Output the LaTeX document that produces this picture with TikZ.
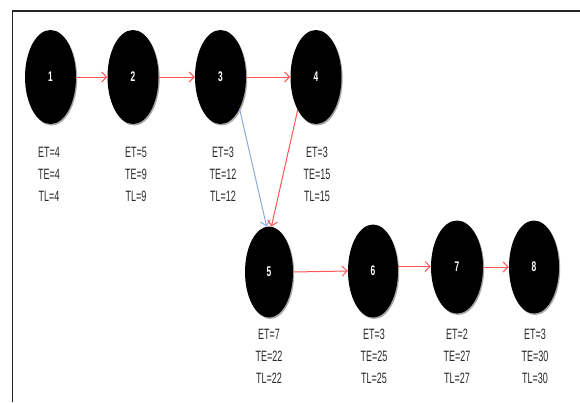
\documentclass[tikz,border=0pt]{standalone}
\usepackage{fontspec}
\usetikzlibrary{shapes.geometric,shadows,arrows.meta}
\newfontfamily\lblfont[FakeStretch=0.6]{Liberation Sans}
\newfontfamily\numfont[FakeStretch=0.6]{Liberation Sans Bold}
\definecolor{arrred}{RGB}{255,85,85}
\definecolor{arrblue}{RGB}{140,170,215}
\definecolor{txtgray}{RGB}{40,40,40}
\tikzset{
  evt/.style={ellipse, fill=black, inner sep=0pt, text=white,
    font=\numfont\fontsize{14}{14}\selectfont,
    drop shadow={shadow xshift=1.2pt, shadow yshift=-1.5pt, fill=black!35, opacity=1}},
  lbl/.style={align=center, text=txtgray, inner sep=0pt,
    font=\lblfont\fontsize{15}{22}\selectfont},
  redarr/.style={draw=arrred, line width=1pt, -{Straight Barb[length=5pt,width=10pt]}},
  bluearr/.style={draw=arrblue, line width=1pt, -{Straight Barb[length=5pt,width=10pt]}},
}
\begin{document}
\begin{tikzpicture}[x=1pt,y=-1pt]
\useasboundingbox (0,0) rectangle (580,402);
\fill[white] (0,0) rectangle (580,402);
\draw[line width=1.6pt, black!85] (12.5,402) -- (12.5,11) -- (580,11);

\node[evt, minimum width=51pt, minimum height=94pt] (n1) at (50.5,77) {1};
\node[evt, minimum width=51pt, minimum height=94pt] (n2) at (133,77) {2};
\node[evt, minimum width=51pt, minimum height=94pt] (n3) at (220.5,77) {3};
\node[evt, minimum width=51pt, minimum height=94pt] (n4) at (316,77) {4};
\node[evt, minimum width=48pt, minimum height=91pt] (n5) at (269,272) {5};
\node[evt, minimum width=50pt, minimum height=93pt] (n6) at (373,271) {6};
\node[evt, minimum width=52pt, minimum height=93pt] (n7) at (457,267) {7};
\node[evt, minimum width=50pt, minimum height=93pt] (n8) at (534,267) {8};

\node[lbl] (l1) at (49,174) {ET=4\\TE=4\\TL=4};
\node[lbl] (l2) at (136,174) {ET=5\\TE=9\\TL=9};
\node[lbl] (l3) at (223,174) {ET=3\\TE=12\\TL=12};
\node[lbl] (l4) at (317,174) {ET=3\\TE=15\\TL=15};
\node[lbl] (l5) at (269,356) {ET=7\\TE=22\\TL=22};
\node[lbl] (l6) at (374,356) {ET=3\\TE=25\\TL=25};
\node[lbl] (l7) at (457,356) {ET=2\\TE=27\\TL=27};
\node[lbl] (l8) at (535,356) {ET=3\\TE=30\\TL=30};

\draw[redarr] (n1.east) -- (n2.west);
\draw[redarr] (n2.east) -- (n3.west);
\draw[redarr] (n3.east) -- (n4.west);
\draw[bluearr] (n3.-59) -- (n5.93);
\draw[redarr] (n4.-119) -- (n5.87);
\draw[redarr] (n5.east) -- (n6.west);
\draw[redarr] (n6.10) -- (n6.10 -| n7.west);
\draw[redarr] (n7.east) -- (n8.west);
\end{tikzpicture}
\end{document}
